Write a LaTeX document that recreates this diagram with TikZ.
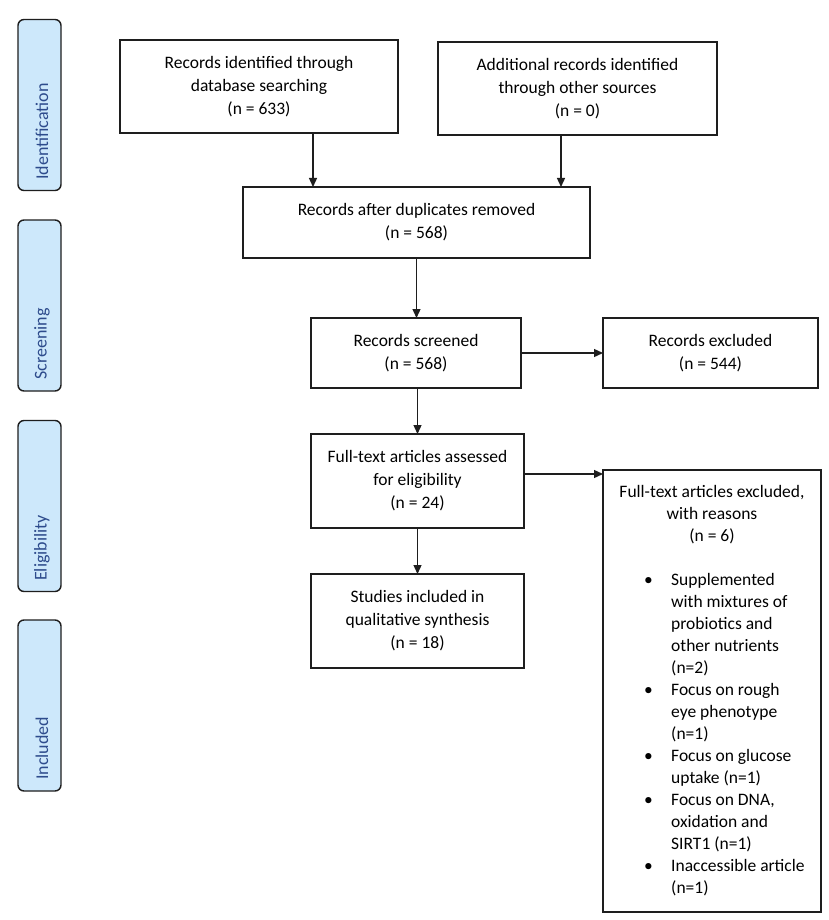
\documentclass[tikz,border=0pt]{standalone}
\usepackage{fontspec}
\setmainfont{Carlito}
\usetikzlibrary{arrows.meta,calc}
\definecolor{tabfill}{RGB}{205,232,251}
\definecolor{tabtext}{RGB}{45,75,140}
\definecolor{lin}{RGB}{30,30,30}
\begin{document}
\begin{tikzpicture}[x=1pt,y=-1pt,
  box/.style={draw=lin,line width=1.4pt,inner sep=0pt,outer sep=0pt,align=center,font=\fontsize{17.5}{23}\selectfont},
  tab/.style={draw=lin,fill=tabfill,line width=1.4pt,rounded corners=6pt,inner sep=0pt,outer sep=0pt,minimum width=43pt,minimum height=171pt},
  tablabel/.style={rotate=90,anchor=west,inner sep=0pt,text=tabtext,font=\fontsize{18}{20}\selectfont},
  txt/.style={inner sep=0pt,font=\fontsize{17.5}{22}\selectfont},
  arr/.style={draw=lin,line width=1.3pt,-{Triangle[length=9pt,width=8pt]}}]
\path[use as bounding box,fill=white] (0,0) rectangle (829,920);

% stage tabs
\node[tab] (t1) at (39.5,105) {};
\node[tab] (t2) at (39.5,305.5) {};
\node[tab] (t3) at (39.5,506) {};
\node[tab] (t4) at (39.5,705.5) {};
\node[tablabel] (l1) at (42,180) {Identification};
\node[tablabel] (l2) at (42,380) {Screening};
\node[tablabel] (l3) at (42,581) {Eligibility};
\node[tablabel] (l4) at (42,780) {Included};

% boxes
\node[box,minimum width=278pt,minimum height=93pt] (b1) at (259,86.5)
  {Records identified through\\database searching\\(n = 633)};
\node[box,minimum width=279pt,minimum height=93pt] (b2) at (577.5,88.5)
  {Additional records identified\\through other sources\\(n = 0)};
\node[box,minimum width=347pt,minimum height=71pt] (dup) at (416.5,222.5)
  {Records after duplicates removed\\(n = 568)};
\node[box,minimum width=210pt,minimum height=70pt] (scr) at (416,353)
  {Records screened\\(n = 568)};
\node[box,minimum width=215pt,minimum height=70pt] (ex1) at (710.5,353)
  {Records excluded\\(n = 544)};
\node[box,minimum width=213pt,minimum height=94pt] (full) at (417.5,481)
  {Full-text articles assessed\\for eligibility\\(n = 24)};
\node[box,minimum width=213pt,minimum height=94pt] (stud) at (417.5,621)
  {Studies included in\\qualitative synthesis\\(n = 18)};
\node[box,minimum width=218pt,minimum height=442pt] (ex2) at (712,691) {};

\node[txt,anchor=north] (ex2head) at (712,481.6)
  {\begin{tabular}{@{}c@{}}Full-text articles excluded,\\with reasons\\(n = 6)\end{tabular}};
\node[txt,anchor=north west] (ex2list) at (644,569.6)
  {\begin{tabular}{@{}p{27pt}@{}l@{}}
  \textbullet & Supplemented\\
   & with mixtures of\\
   & probiotics and\\
   & other nutrients\\
   & (n=2)\\
  \textbullet & Focus on rough\\
   & eye phenotype\\
   & (n=1)\\
  \textbullet & Focus on glucose\\
   & uptake (n=1)\\
  \textbullet & Focus on DNA,\\
   & oxidation and\\
   & SIRT1 (n=1)\\
  \textbullet & Inaccessible article\\
   & (n=1)
  \end{tabular}};

% connectors
\draw[arr] ([xshift=54pt]b1.south) -- ([xshift=54pt]b1.south |- dup.north);
\draw[arr] ([xshift=-16.5pt]b2.south) -- ([xshift=-16.5pt]b2.south |- dup.north);
\draw[arr] (dup.south) -- (dup.south |- scr.north);
\draw[arr] (scr.east) -- (ex1.west);
\draw[arr] (full.north |- scr.south) -- (full.north);
\draw[arr] ([yshift=7pt]full.east) -- ([yshift=7pt]full.east -| ex2.west);
\draw[arr] (full.south) -- (stud.north);
\end{tikzpicture}
\end{document}
